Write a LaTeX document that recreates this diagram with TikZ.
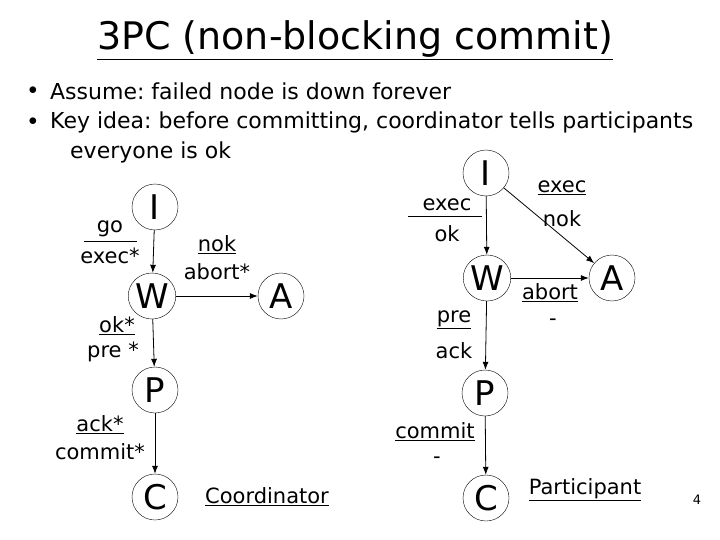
\documentclass[tikz,border=0pt]{standalone}
\usepackage{fontspec}
\setmainfont{DejaVu Sans}
\frenchspacing
\usetikzlibrary{shapes.geometric}
\tikzset{
  st/.style={draw, thin, ellipse, minimum width=46pt, minimum height=46pt, inner sep=0pt, font=\fontsize{34}{34}\selectfont},
  lbl/.style={font=\fontsize{21}{21}\selectfont, inner sep=1pt},
  tr/.style={thick, -{Latex[length=8pt,width=6pt]}}
}
\usetikzlibrary{arrows.meta}
\begin{document}
\begin{tikzpicture}[x=1pt,y=-1pt]
\useasboundingbox (0,0) rectangle (720,540);
\node (title) at (355,40) {\fontsize{38}{38}\selectfont\underline{3PC (non-blocking commit)}};
\node (b1) at (33,91) {\fontsize{18}{18}\selectfont$\bullet$};
\node (b2) at (33,122) {\fontsize{18}{18}\selectfont$\bullet$};
\node[anchor=west, inner sep=0pt] (t1) at (50,91) {\fontsize{22}{22}\selectfont Assume: failed node is down forever};
\node[anchor=west, inner sep=0pt] (t2) at (50,122) {\fontsize{22}{22}\selectfont Key idea: before committing, coordinator tells participants};
\node[anchor=west, inner sep=0pt] (t3) at (70,152) {\fontsize{22}{22}\selectfont everyone is ok};
% coordinator
\node[st] (cI) at (155,207) {I};
\node[st] (cW) at (152,296) {W};
\node[st] (cA) at (281,296) {A};
\node[st] (cP) at (155,390) {P};
\node[st] (cC) at (155,497) {C};
\draw[tr] (cI) -- (cW);
\draw[tr] (cW) -- (cA);
\draw[tr] (cW) -- (cP);
\draw[tr] (cP) -- (cC);
\node[lbl] (cgo) at (110,229) {go};
\node[lbl] (cexec) at (110,256) {exec*};
\draw[thick] (84,241) -- (137,241);
\node[lbl] (cnok) at (217,245) {\underline{nok}};
\node[lbl] (cab) at (217,272) {abort*};
\node[lbl] (cok) at (117,326) {\underline{ok*}};
\node[lbl] (cpre) at (113,352) {pre *};
\node[lbl] (cack) at (100,425) {\underline{ack*}};
\node[lbl] (ccom) at (100,452) {commit*};
\node[lbl] (coord) at (267,497) {\underline{Coordinator}};
% participant
\node[st] (pI) at (486,173) {I};
\node[st] (pW) at (487,278) {W};
\node[st] (pA) at (612,278) {A};
\node[st] (pP) at (485,393) {P};
\node[st] (pC) at (486,498) {C};
\draw[tr] (pI) -- (pW);
\draw[tr] (pI) -- (pA);
\draw[tr] (pW) -- (pA);
\draw[tr] (pW) -- (pP);
\draw[tr] (pP) -- (pC);
\node[lbl] (pexec) at (447,205) {exec};
\node[lbl] (pok) at (447,234) {ok};
\draw[thick] (408,216) -- (482,216);
\node[lbl] (pexec2) at (562,188) {\underline{exec}};
\node[lbl] (pnok) at (562,219) {nok};
\node[lbl] (pab) at (550,293) {\underline{abort}};
\node[lbl] (pd1) at (553,322) {-};
\node[lbl] (ppre) at (454,320) {\underline{pre}};
\node[lbl] (pack) at (454,351) {ack};
\node[lbl] (pcom) at (435,432) {\underline{commit}};
\node[lbl] (pd2) at (437,460) {-};
\node[lbl] (part) at (585,490) {\underline{Participant}};
\node (pg) at (697,500) {\fontsize{13}{13}\selectfont 4};
\end{tikzpicture}
\end{document}
